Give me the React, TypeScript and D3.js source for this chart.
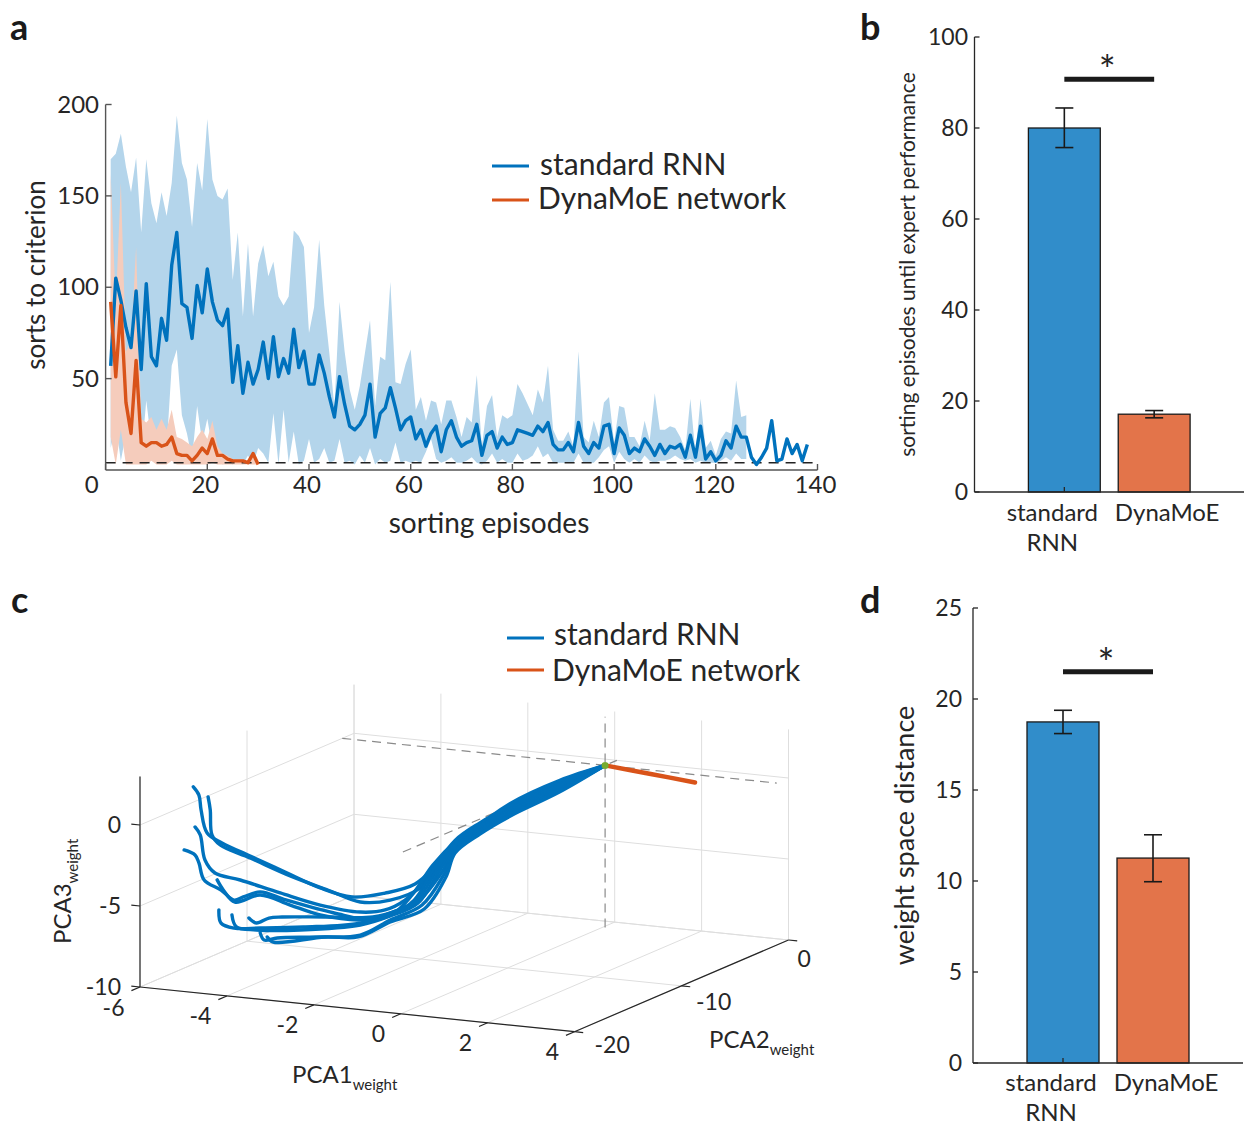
import React from "react";
import * as d3 from "d3";

const FONT = "Lato, 'Open Sans', 'DejaVu Sans', sans-serif";
const INK = "#262626";
const BLUE = "#0072BD";
const ORANGE = "#D95319";
const BLUE_BAND = "#B4D5EB";
const ORANGE_BAND = "#F5CCBC";
const BAR_BLUE = "#318DCA";
const BAR_ORANGE = "#E3744A";
const GRID = "#DEDEDE";

// ---------- a: sorts to criterion per sorting episode ----------
const rnnMean = [
  57, 105, 93, 78, 67, 98, 55, 102, 62, 57,
  83, 71, 112, 130, 91, 89, 72, 101, 86, 110,
  92, 82, 79, 88, 48, 68, 42, 59, 47, 55,
  70, 50, 73, 51, 61, 53, 77, 56, 65, 47,
  47, 63, 53, 40, 29, 51, 36, 24, 22, 25,
  30, 47, 18, 31, 34, 45, 34, 22, 27, 29,
  17, 22, 13, 20, 24, 10, 22, 27, 18, 13,
  15, 16, 25, 8, 19, 21, 12, 18, 14, 15,
  22, 21, 20, 19, 24, 21, 26, 14, 11, 11,
  15, 10, 26, 13, 9, 15, 12, 24, 25, 9,
  23, 19, 9, 12, 10, 17, 13, 8, 14, 9,
  13, 12, 14, 7, 19, 7, 24, 6, 10, 5,
  8, 16, 12, 24, 18, 18, 7, 3, 7, 12,
  27, 5, 6, 17, 9, 14, 5, 14,
];
const rnnUpper = [
  170, 173, 184, 166, 152, 171, 130, 170, 146, 135,
  152, 139, 157, 194, 168, 159, 133, 168, 153, 192,
  159, 150, 148, 154, 104, 130, 84, 124, 84, 113,
  123, 106, 114, 95, 90, 95, 131, 128, 122, 75,
  89, 126, 90, 64, 34, 92, 65, 44, 33, 46,
  64, 82, 35, 62, 60, 103, 48, 47, 58, 66,
  33, 40, 27, 38, 37, 25, 38, 38, 29, 18,
  29, 26, 52, 13, 35, 41, 18, 30, 28, 30,
  47, 42, 36, 30, 44, 37, 57, 22, 16, 16,
  21, 13, 65, 18, 15, 27, 18, 37, 40, 15,
  35, 34, 18, 18, 13, 27, 16, 42, 22, 22,
  24, 23, 18, 11, 39, 9, 39, 12, 16, 8,
  17, 21, 20, 49, 29, 30,
];
const rnnLower = [
  12, 25, 5, 20, 8, 30, 6, 38, 15, 8,
  20, 12, 57, 66, 30, 20, 6, 35, 15, 28,
  12, 5, 3, 4, 3, 6, 3, 8, 3, 12,
  9, 4, 31, 3, 33, 4, 21, 3, 5, 17,
  4, 6, 12, 4, 5, 17, 4, 5, 3, 8,
  4, 12, 3, 6, 4, 5, 15, 4, 5, 4,
  5, 4, 10, 17, 6, 4, 5, 7, 4, 4,
  5, 7, 4, 3, 5, 9, 4, 6, 4, 4,
  9, 5, 6, 8, 13, 7, 9, 4, 4, 4,
  4, 4, 9, 4, 4, 4, 7, 11, 13, 4,
  10, 6, 4, 6, 4, 8, 5, 4, 5, 5,
  6, 8, 6, 5, 6, 4, 5, 4, 4, 4,
  5, 7, 5, 9, 6, 6,
];
const moeMean = [
  92, 51, 90, 37, 20, 60, 15, 13, 15, 15,
  13, 14, 18, 9, 8, 8, 5, 8, 12, 9,
  17, 8, 8, 6, 5, 5, 5, 4, 9, 3,
];
const moeUpper = [
  162, 90, 157, 65, 70, 122, 28, 26, 29, 22,
  28, 22, 33, 18, 17, 15, 13, 18, 22, 17,
  27, 13, 9, 8, 6, 6, 6, 4, 10, 4,
];
const moeLower = [
  18, 3, 22, 3, 3, 3, 3, 3, 5, 3,
  3, 3, 5, 3, 3, 3, 3, 3, 3, 3,
  4, 3, 3, 3, 3, 3, 3, 3, 3, 3,
];
const criterionLevel = 4;
const episodeTicks = [0, 20, 40, 60, 80, 100, 120, 140];
const sortsTicks = [50, 100, 150, 200];

// ---------- b: episodes until expert performance ----------
const barGroups = ["standard RNN", "DynaMoE"];
const expertEpisodes = [80.0, 17.1];
const expertLow = [75.7, 16.3];
const expertHigh = [84.4, 17.9];
const expertSigLevel = 90.7;
const expertTicks = [0, 20, 40, 60, 80, 100];

// ---------- d: weight space distance ----------
const weightDistance = [18.74, 11.26];
const weightLow = [18.1, 9.96];
const weightHigh = [19.38, 12.54];
const weightSigLevel = 21.5;
const weightTicks = [0, 5, 10, 15, 20, 25];

// ---------- c: training trajectories in weight PCA space ----------
const pc1Lim = [-6, 4];
const pc2Lim = [-20, 0];
const pc3Lim = [-10, 3];
const pc1Ticks = [-6, -4, -2, 0, 2, 4];
const pc2Ticks = [-20, -10, 0];
const pc3Ticks = [-10, -5, 0];
const startPoint = [0.05, -1.1, 0];
const rnnRuns = [
  [[0.05, -1.1, 0], [-0.54, -2.93, -0.56], [-1.19, -4.96, -1.61], [-1.71, -6.59, -3.1], [-2.1, -7.81, -4.65], [-2.42, -8.83, -5.82], [-2.81, -10.05, -6.14], [-3.24, -11.39, -6.12], [-3.65, -12.7, -5.3], [-4.11, -14.12, -4.04], [-4.56, -15.55, -2.78], [-4.93, -16.68, -1.75], [-5.12, -17.3, -1.01], [-5.2, -17.54, 0.45], [-5.23, -17.62, 1.39], [-5.3, -17.86, 1.94]],
  [[0.05, -1.1, 0], [-0.54, -2.93, -0.64], [-1.19, -4.96, -1.7], [-1.71, -6.59, -3.29], [-2.1, -7.81, -4.77], [-2.35, -8.63, -6.1], [-2.74, -9.85, -6.61], [-3.13, -11.07, -6.49], [-3.52, -12.29, -5.57], [-4.04, -13.92, -4.32], [-4.56, -15.55, -2.9], [-4.95, -16.77, -1.86], [-5.06, -17.09, -1.17], [-5.08, -17.17, 0.38], [-5.11, -17.25, 1.2]],
  [[0.05, -1.1, 0], [-0.54, -2.93, -0.72], [-1.19, -4.96, -1.78], [-1.58, -6.18, -2.56], [-1.9, -7.2, -3.44], [-2.29, -8.42, -5.65], [-2.55, -9.24, -6.73], [-2.81, -10.05, -7.18], [-3.13, -11.07, -7.11], [-3.65, -12.7, -6.36], [-4.17, -14.32, -5.3], [-4.69, -15.95, -4.18], [-5.02, -16.97, -3.55], [-5.15, -17.38, -2.67], [-5.21, -17.58, -1.08], [-5.28, -17.78, -0.55]],
  [[0.05, -1.1, 0], [-0.54, -2.93, -0.8], [-1.19, -4.96, -1.87], [-1.58, -6.18, -2.66], [-1.9, -7.2, -3.55], [-2.19, -8.1, -4.79], [-2.46, -8.95, -6.47], [-2.69, -9.68, -7.44], [-2.97, -10.54, -7.7], [-3.47, -12.13, -6.96], [-4.1, -14.08, -5.78], [-4.43, -15.14, -5.07], [-4.65, -15.83, -5.25], [-4.77, -16.2, -5.37], [-4.94, -16.73, -4.65], [-5.16, -17.42, -3.89], [-5.23, -17.62, -2.8], [-5.28, -17.78, -2.28], [-5.42, -18.23, -1.88]],
  [[0.05, -1.1, 0], [-0.54, -2.93, -0.88], [-1.19, -4.96, -1.96], [-1.58, -6.18, -2.76], [-1.9, -7.2, -3.66], [-2.15, -7.97, -4.87], [-2.43, -8.87, -6.8], [-2.74, -9.85, -7.53], [-3.13, -11.07, -7.6], [-3.65, -12.7, -6.97], [-4.04, -13.92, -6.12], [-4.43, -15.14, -5.26], [-4.76, -16.16, -5.5], [-4.91, -16.64, -4.66], [-4.99, -16.89, -3.99]],
  [[0.05, -1.1, 0], [-0.54, -2.93, -0.96], [-1.19, -4.96, -2.04], [-1.58, -6.18, -2.86], [-1.9, -7.2, -3.78], [-2.12, -7.89, -5.01], [-2.41, -8.79, -6.87], [-2.74, -9.85, -7.41], [-3.13, -11.07, -7.79], [-3.87, -13.39, -7.58], [-4.43, -15.14, -7.3], [-4.77, -16.2, -7.1], [-4.94, -16.73, -6.69], [-4.97, -16.81, -5.86]],
  [[0.05, -1.1, 0], [-0.54, -2.93, -1.04], [-1.19, -4.96, -2.13], [-1.58, -6.18, -2.96], [-1.9, -7.2, -3.89], [-2.1, -7.81, -5.15], [-2.38, -8.71, -7.01], [-2.74, -9.85, -7.59], [-3.13, -11.07, -7.91], [-3.91, -13.51, -7.74], [-4.48, -15.3, -7.39], [-4.74, -16.11, -7.04], [-4.8, -16.28, -6.27]],
  [[0.05, -1.1, 0], [-0.54, -2.93, -1.12], [-1.19, -4.96, -2.22], [-1.58, -6.18, -3.06], [-1.9, -7.2, -4.0], [-2.07, -7.73, -5.29], [-2.35, -8.63, -6.78], [-2.63, -9.48, -7.29], [-2.97, -10.54, -7.52], [-3.59, -12.49, -7.14], [-4.15, -14.24, -6.8], [-4.32, -14.77, -6.76], [-4.48, -15.3, -6.96], [-4.58, -15.59, -6.6]],
  [[0.05, -1.1, 0], [-0.54, -2.93, -1.2], [-1.19, -4.96, -2.3], [-1.58, -6.18, -3.15], [-1.9, -7.2, -4.11], [-2.04, -7.65, -5.43], [-2.33, -8.54, -7.17], [-2.74, -9.85, -7.84], [-3.13, -11.07, -8.53], [-3.7, -12.86, -8.3], [-4.21, -14.45, -8.05], [-4.38, -14.97, -8.08], [-4.43, -15.14, -7.6]],
  [[0.05, -1.1, 0], [-0.54, -2.93, -1.28], [-1.19, -4.96, -2.39], [-1.58, -6.18, -3.25], [-1.9, -7.2, -4.22], [-2.02, -7.57, -5.63], [-2.3, -8.46, -7.43], [-2.74, -9.85, -7.96], [-3.16, -11.15, -8.63], [-3.59, -12.49, -8.37], [-4.26, -14.61, -8.27], [-4.34, -14.85, -7.91]],
];
const moeRun = [[0.05, -1.1, 0], [1.1, -1.1, -0.24], [2.12, -1.1, -0.48]];

// Oblique box of the 3-D axes: screen origin and edge vectors for each axis range
const BOX_ORIGIN = [140, 987];
const EDGE1 = [434.5, 44.7];
const EDGE2 = [214, -91.7];
const EDGE3 = [0, -210.6];

function BarPanel({ x0, x1, yTop, yBottom, max, values, low, high, sig, ticks, ylabel, ylabelX, ylabelSize, labelY, tickLabelX }) {
  const x = d3.scaleLinear().domain([0, 3]).range([x0, x1]);
  const y = d3.scaleLinear().domain([0, max]).range([yBottom, yTop]);
  const unit = x(1) - x(0);
  const barW = unit * 0.8;
  const fills = [BAR_BLUE, BAR_ORANGE];
  return (
    <g>
      {values.map((v, i) => (
        <rect key={i} x={x(i + 1) - barW / 2} y={y(v)} width={barW} height={y(0) - y(v)}
          fill={fills[i]} stroke="#1a1a1a" strokeWidth={1.3} />
      ))}
      {values.map((v, i) => (
        <g key={"e" + i} stroke="#1a1a1a" strokeWidth={1.6}>
          <line x1={x(i + 1)} x2={x(i + 1)} y1={y(low[i])} y2={y(high[i])} />
          <line x1={x(i + 1) - 9} x2={x(i + 1) + 9} y1={y(low[i])} y2={y(low[i])} />
          <line x1={x(i + 1) - 9} x2={x(i + 1) + 9} y1={y(high[i])} y2={y(high[i])} />
        </g>
      ))}
      <line x1={x(1)} x2={x(2)} y1={y(sig)} y2={y(sig)} stroke="#1a1a1a" strokeWidth={5} />
      <text x={x(1.5) - 2} y={y(sig) + 6} textAnchor="middle" fontSize={40} fill={INK}>*</text>
      <line x1={x(0)} x2={x(0)} y1={y(0)} y2={y(max)} stroke={INK} strokeWidth={1.3} />
      <line x1={x(0)} x2={x(3)} y1={y(0)} y2={y(0)} stroke={INK} strokeWidth={1.3} />
      <line x1={x(1)} x2={x(1)} y1={y(0)} y2={y(0) - 5} stroke={INK} strokeWidth={1.3} />
      {ticks.map((t) => (
        <g key={t}>
          <line x1={x(0)} x2={x(0) + 5} y1={y(t)} y2={y(t)} stroke={INK} strokeWidth={1.3} />
          <text x={tickLabelX} y={y(t) + 8} textAnchor="end" fontSize={23} fill={INK}>{t}</text>
        </g>
      ))}
      <text x={x(1) - 12} y={labelY} textAnchor="middle" fontSize={24} fill={INK}>standard</text>
      <text x={x(1) - 12} y={labelY + 30} textAnchor="middle" fontSize={24} fill={INK}>RNN</text>
      <text x={x(2) + 13} y={labelY} textAnchor="middle" fontSize={24} fill={INK}>{barGroups[1]}</text>
      <text transform={`translate(${ylabelX},${(yTop + yBottom) / 2}) rotate(-90)`} textAnchor="middle"
        fontSize={ylabelSize} fill={INK}>{ylabel}</text>
    </g>
  );
}

export default function App() {
  // ----- panel a -----
  const xA = d3.scaleLinear().domain([0, 140]).range([105.6, 817.5]);
  const yA = d3.scaleLinear().domain([0, 200]).range([470, 104.5]);
  const band = d3.area().x((d) => xA(d[0])).y0((d) => yA(d[1])).y1((d) => yA(d[2]));
  const trace = d3.line().x((d) => xA(d[0])).y((d) => yA(d[1]));
  const rnnBand = rnnUpper.map((hi, i) => [i + 1, rnnLower[i], hi]);
  const moeBand = moeUpper.map((hi, i) => [i + 1, moeLower[i], hi]);
  const rnnTrace = rnnMean.map((v, i) => [i + 1, v]);
  const moeTrace = moeMean.map((v, i) => [i + 1, v]);

  // ----- panel c -----
  const c1 = d3.scaleLinear().domain(pc1Lim).range([0, 1]);
  const c2 = d3.scaleLinear().domain(pc2Lim).range([0, 1]);
  const c3 = d3.scaleLinear().domain(pc3Lim).range([0, 1]);
  const project = (p) => [
    BOX_ORIGIN[0] + c1(p[0]) * EDGE1[0] + c2(p[1]) * EDGE2[0] + c3(p[2]) * EDGE3[0],
    BOX_ORIGIN[1] + c1(p[0]) * EDGE1[1] + c2(p[1]) * EDGE2[1] + c3(p[2]) * EDGE3[1],
  ];
  const seg = (a, b) => {
    const p = project(a);
    const q = project(b);
    return `M${p[0]},${p[1]}L${q[0]},${q[1]}`;
  };
  const [lo1, hi1] = pc1Lim;
  const [lo2, hi2] = pc2Lim;
  const [lo3, hi3] = pc3Lim;
  const gridSegs = [];
  pc1Ticks.forEach((t) => {
    gridSegs.push(seg([t, lo2, lo3], [t, hi2, lo3]));
    gridSegs.push(seg([t, hi2, lo3], [t, hi2, hi3]));
  });
  pc2Ticks.forEach((s) => {
    gridSegs.push(seg([lo1, s, lo3], [hi1, s, lo3]));
    gridSegs.push(seg([lo1, s, lo3], [lo1, s, hi3]));
  });
  pc3Ticks.forEach((z) => {
    gridSegs.push(seg([lo1, hi2, z], [hi1, hi2, z]));
    gridSegs.push(seg([lo1, lo2, z], [lo1, hi2, z]));
  });
  const [s1, s2, s3] = startPoint;
  const guideSegs = [
    seg([lo1, s2, s3], [hi1, s2, s3]),
    seg([s1, lo2, s3], [s1, hi2, s3]),
    seg([s1, s2, lo3], [s1, s2, hi3]),
  ];
  const runPath = d3.line().curve(d3.curveCatmullRom.alpha(0.5));
  const startXY = project(startPoint);
  const pc2LabelDx = d3.scaleLinear().domain([-20, 0]).range([20, 9]);
  const pc2LabelDy = d3.scaleLinear().domain([-20, 0]).range([13, 19]);

  return (
    <svg width={1244} height={1125} style={{ position: "absolute", left: 0, top: 0, background: "#fff" }}
      fontFamily={FONT}>
      <rect width={1244} height={1125} fill="#fff" />

      {/* panel letters */}
      <g fontWeight="bold" fontSize={36} fill="#1a1a1a">
        <text x={10} y={40}>a</text>
        <text x={860} y={40}>b</text>
        <text x={11} y={613}>c</text>
        <text x={860} y={613}>d</text>
      </g>

      {/* ---------- a ---------- */}
      <g>
        <path d={band(rnnBand)} fill={BLUE_BAND} />
        <path d={band(moeBand)} fill={ORANGE_BAND} />
        <line x1={xA(0)} x2={xA(140)} y1={yA(criterionLevel)} y2={yA(criterionLevel)} stroke="#222"
          strokeWidth={1.4} strokeDasharray="10 7" />
        <path d={trace(rnnTrace)} fill="none" stroke={BLUE} strokeWidth={3.4} strokeLinejoin="round" />
        <path d={trace(moeTrace)} fill="none" stroke={ORANGE} strokeWidth={3.4} strokeLinejoin="round" />
        <line x1={xA(0)} x2={xA(0)} y1={yA(0)} y2={yA(200)} stroke="#555" strokeWidth={1.4} />
        <line x1={xA(0)} x2={xA(140)} y1={yA(0)} y2={yA(0)} stroke="#555" strokeWidth={1.4} />
        {sortsTicks.map((t) => (
          <g key={t}>
            <line x1={xA(0)} x2={xA(0) + 6} y1={yA(t)} y2={yA(t)} stroke="#555" strokeWidth={1.4} />
            <text x={99} y={yA(t) + 8} textAnchor="end" fontSize={24} fill={INK}>{t}</text>
          </g>
        ))}
        {episodeTicks.map((t) => (
          <g key={t}>
            <line x1={xA(t)} x2={xA(t)} y1={yA(0)} y2={yA(0) - 6} stroke="#555" strokeWidth={1.4} />
            <text x={t === 0 ? xA(t) - 14 : xA(t) - 2} y={493} textAnchor="middle" fontSize={24} fill={INK}>{t}</text>
          </g>
        ))}
        <text x={489} y={533} textAnchor="middle" fontSize={28} fill={INK}>sorting episodes</text>
        <text transform="translate(45,275) rotate(-90)" textAnchor="middle" fontSize={26} fill={INK}>sorts to criterion</text>
        <line x1={492} x2={529} y1={166} y2={166} stroke={BLUE} strokeWidth={3} />
        <text x={540} y={175} fontSize={30} fill={INK}>standard RNN</text>
        <line x1={492} x2={529} y1={200} y2={200} stroke={ORANGE} strokeWidth={3} />
        <text x={538} y={209} fontSize={30} fill={INK}>DynaMoE network</text>
      </g>

      {/* ---------- b ---------- */}
      <BarPanel x0={974.5} x1={1244} yTop={37} yBottom={492} max={100} values={expertEpisodes}
        low={expertLow} high={expertHigh} sig={expertSigLevel} ticks={expertTicks}
        ylabel="sorting episodes until expert performance" ylabelX={915} ylabelSize={21}
        labelY={521} tickLabelX={968} />

      {/* ---------- d ---------- */}
      <BarPanel x0={973} x1={1243} yTop={608} yBottom={1063} max={25} values={weightDistance}
        low={weightLow} high={weightHigh} sig={weightSigLevel} ticks={weightTicks}
        ylabel="weight space distance" ylabelX={914} ylabelSize={27}
        labelY={1091} tickLabelX={962} />

      {/* ---------- c ---------- */}
      <g>
        {gridSegs.map((d, i) => (
          <path key={i} d={d} stroke={GRID} strokeWidth={1} fill="none" />
        ))}
        <path d={seg([lo1, lo2, lo3], [hi1, lo2, lo3])} stroke={INK} strokeWidth={1.2} />
        <path d={seg([hi1, lo2, lo3], [hi1, hi2, lo3])} stroke={INK} strokeWidth={1.2} />
        <path d={seg([lo1, lo2, lo3], [lo1, lo2, hi3])} stroke={INK} strokeWidth={1.2} />
        {pc1Ticks.map((t) => {
          const p = project([t, lo2, lo3]);
          return (
            <g key={t}>
              <path d={seg([t, lo2, lo3], [t, lo2 - 0.8, lo3])} stroke={INK} strokeWidth={1.2} />
              <text x={p[0] - 15.5} y={p[1] + 28.5} textAnchor="end" fontSize={23} fill={INK}>{t}</text>
            </g>
          );
        })}
        {pc2Ticks.map((t) => {
          const p = project([hi1, t, lo3]);
          return (
            <g key={t}>
              <path d={seg([hi1, t, lo3], [hi1 + 0.2, t, lo3])} stroke={INK} strokeWidth={1.2} />
              <text x={p[0] + pc2LabelDx(t)} y={p[1] + pc2LabelDy(t) + 8} textAnchor="start" fontSize={23} fill={INK}>{t}</text>
            </g>
          );
        })}
        {pc3Ticks.map((t) => {
          const p = project([lo1, lo2, t]);
          return (
            <g key={t}>
              <path d={seg([lo1, lo2, t], [lo1 - 0.2, lo2, t])} stroke={INK} strokeWidth={1.2} />
              <text x={121} y={p[1] + 8} textAnchor="end" fontSize={23} fill={INK}>{t}</text>
            </g>
          );
        })}
        {guideSegs.map((d, i) => (
          <path key={i} d={d} stroke="#8a8a8a" strokeWidth={1.2} strokeDasharray="9 6" fill="none" />
        ))}
        {rnnRuns.map((run, i) => (
          <path key={i} d={runPath(run.map(project))} fill="none" stroke={BLUE} strokeWidth={3.4}
            strokeLinejoin="round" strokeLinecap="round" />
        ))}
        <path d={runPath(moeRun.map(project))} fill="none" stroke={ORANGE} strokeWidth={4.5} strokeLinecap="round" />
        <circle cx={startXY[0]} cy={startXY[1]} r={3.5} fill="#77AC30" />

        <text x={292} y={1083} fontSize={24} fill={INK}>PCA1<tspan dy={7} fontSize={15}>weight</tspan></text>
        <text x={709} y={1048} fontSize={24} fill={INK}>PCA2<tspan dy={7} fontSize={15}>weight</tspan></text>
        <text transform="translate(71,944) rotate(-90)" fontSize={24} fill={INK}>PCA3<tspan dy={7} fontSize={15}>weight</tspan></text>

        <line x1={507} x2={544} y1={638} y2={638} stroke={BLUE} strokeWidth={3} />
        <text x={554} y={645} fontSize={30} fill={INK}>standard RNN</text>
        <line x1={507} x2={544} y1={670} y2={670} stroke={ORANGE} strokeWidth={3} />
        <text x={552} y={681} fontSize={30} fill={INK}>DynaMoE network</text>
      </g>
    </svg>
  );
}
